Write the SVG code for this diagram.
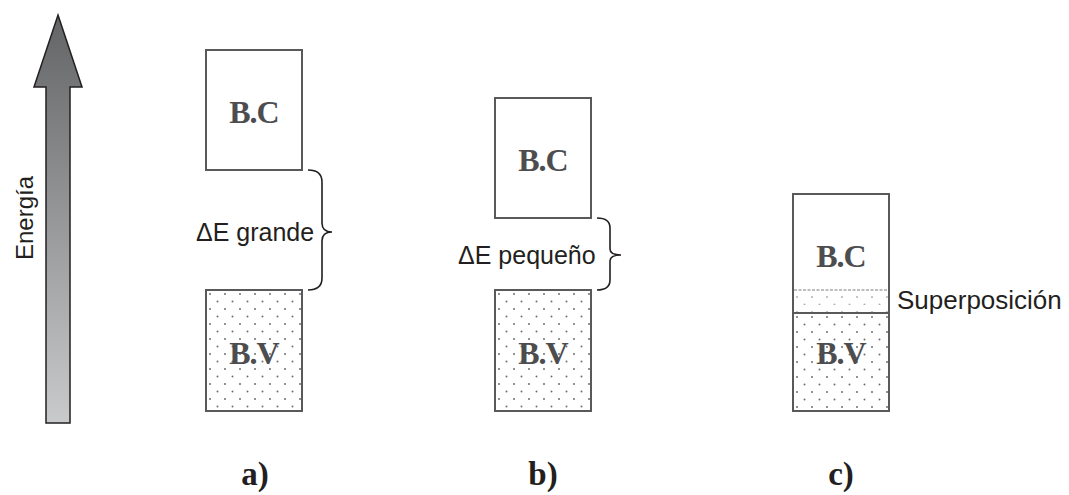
<svg xmlns="http://www.w3.org/2000/svg" width="1069" height="495" viewBox="0 0 1069 495">
<defs>
<linearGradient id="arrowGrad" x1="0" y1="0" x2="0" y2="1">
<stop offset="0" stop-color="#636466"/>
<stop offset="1" stop-color="#c9cacc"/>
</linearGradient>
<pattern id="dots" patternUnits="userSpaceOnUse" width="15" height="15" x="206" y="290">
<circle cx="4" cy="4" r="1" fill="#6d6e70"/>
<circle cx="11.5" cy="11.5" r="1" fill="#6d6e70"/>
</pattern>
<pattern id="dotsB" patternUnits="userSpaceOnUse" width="15" height="15" x="495" y="290">
<circle cx="4" cy="4" r="1" fill="#6d6e70"/>
<circle cx="11.5" cy="11.5" r="1" fill="#6d6e70"/>
</pattern>
<pattern id="dotsC" patternUnits="userSpaceOnUse" width="15" height="15" x="793" y="313">
<circle cx="4" cy="4" r="1" fill="#6d6e70"/>
<circle cx="11.5" cy="11.5" r="1" fill="#6d6e70"/>
</pattern>
<pattern id="dotsLight" patternUnits="userSpaceOnUse" width="15" height="15" x="793" y="290">
<circle cx="4" cy="7" r="1" fill="#b0b0b0"/>
<circle cx="11.5" cy="14.5" r="1" fill="#b0b0b0"/>
</pattern>
</defs>
<style>
.box{fill:#fff;stroke:#58595b;stroke-width:2}
.band{font-family:"Liberation Serif","Times New Roman",serif;font-weight:bold;font-size:32px;letter-spacing:-1px;fill:#4d4d4f;text-anchor:middle}
.lbl{font-family:"Liberation Sans",Arial,sans-serif;font-size:25px;fill:#231f20}
.cap{font-family:"Liberation Serif","Times New Roman",serif;font-weight:bold;font-size:33px;fill:#231f20;text-anchor:middle}
.brace{fill:none;stroke:#231f20;stroke-width:1.6}
</style>
<rect width="1069" height="495" fill="#fff"/>

<g id="energy-axis">
<polygon points="58,15 82,87 70,87 70,423 46,423 46,87 34,87" fill="url(#arrowGrad)" stroke="#231f20" stroke-width="1.5" stroke-linejoin="miter"/>
<text class="lbl" transform="translate(33,218) rotate(-90)" text-anchor="middle" style="font-size:24px">Energía</text>
</g>

<g id="a-bc">
<rect class="box" x="206" y="50" width="96" height="120"/>
<text class="band" x="254" y="123">B.C</text>
</g>
<g id="a-bv">
<rect class="box" x="206" y="290" width="96" height="121" style="fill:url(#dots)"/>
<text class="band" x="254" y="364">B.V</text>
</g>
<g id="a-gap">
<path class="brace" d="M308,170 C318,170 322,174 322,182 L322,223 C322,229 326,232 332,232 C326,232 322,235 322,241 L322,278 C322,286 318,290 308,290"/>
<text class="lbl" x="196" y="241">ΔE grande</text>
</g>
<g id="a-label"><text class="cap" x="255" y="485">a)</text></g>

<g id="b-bc">
<rect class="box" x="495" y="98" width="96" height="120"/>
<text class="band" x="543" y="171">B.C</text>
</g>
<g id="b-bv">
<rect class="box" x="495" y="290" width="96" height="121" style="fill:url(#dotsB)"/>
<text class="band" x="543" y="364">B.V</text>
</g>
<g id="b-gap">
<path class="brace" d="M597,218 C606,218 610,221 610,228 L610,249 C610,253 614,255 621,255 C614,255 610,257 610,261 L610,280 C610,287 606,290 597,290"/>
<text class="lbl" x="458" y="264">ΔE pequeño</text>
</g>
<g id="b-label"><text class="cap" x="543" y="485">b)</text></g>

<g id="c-bands">
<rect x="793" y="290" width="96" height="23" fill="url(#dotsLight)"/>
<rect x="793" y="313" width="96" height="98" fill="url(#dotsC)"/>
<line x1="794" y1="290" x2="888" y2="290" stroke="#a7a9ac" stroke-width="1.5" stroke-dasharray="3,1.5"/>
<line x1="793" y1="313" x2="889" y2="313" stroke="#58595b" stroke-width="2"/>
<rect x="793" y="194" width="96" height="217" fill="none" stroke="#58595b" stroke-width="2"/>
<text class="band" x="841" y="267">B.C</text>
<text class="band" x="841" y="364">B.V</text>
</g>
<g id="c-overlap-label"><text class="lbl" x="897" y="309" style="font-size:26px">Superposición</text></g>
<g id="c-label"><text class="cap" x="841" y="485">c)</text></g>
</svg>
